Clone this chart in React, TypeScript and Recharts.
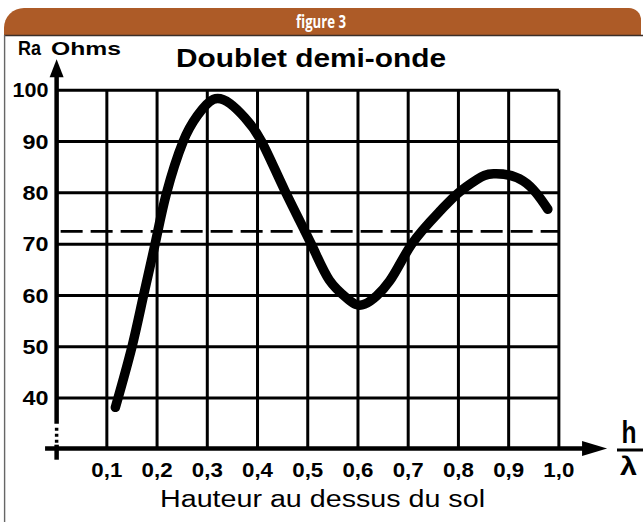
import React from 'react';
import { LineChart, Line, XAxis, YAxis, ReferenceLine } from 'recharts';

// ---- data ----
const H_LAMBDA = [0.117, 0.15, 0.173, 0.196, 0.219, 0.252, 0.28, 0.312, 0.345, 0.375, 0.408, 0.454, 0.507, 0.543, 0.58, 0.613, 0.663, 0.707, 0.764, 0.8, 0.837, 0.87, 0.929, 0.978];
const RA_OHMS = [38.2, 50, 60, 70, 80, 90, 95, 98.2, 97.4, 94.6, 90, 80.5, 70, 63, 59.3, 58.3, 62.8, 70, 76.5, 80, 82.6, 83.7, 82.3, 76.8];

const X_TICKS = [0.1, 0.2, 0.3, 0.4, 0.5, 0.6, 0.7, 0.8, 0.9, 1.0];
const X_TICK_LABELS = ['0,1', '0,2', '0,3', '0,4', '0,5', '0,6', '0,7', '0,8', '0,9', '1,0'];
const Y_TICKS = [40, 50, 60, 70, 80, 90, 100];
const Y_TICK_LABELS = ['40', '50', '60', '70', '80', '90', '100'];
const REFERENCE_OHMS = 72.5; // dashed line
const AXIS_Y = 30.2; // level of drawn horizontal axis
const X_DOMAIN: [number, number] = [0, 1.1];
const Y_DOMAIN: [number, number] = [28, 106];
const X_AXIS_START = -0.023;
const X_AXIS_END = 1.096;

const TITLE = 'Doublet demi-onde';
const HEADER = 'figure 3';
const Y_LABEL_A = 'Ra';
const Y_LABEL_B = 'Ohms';
const X_LABEL = 'Hauteur au dessus du sol';

const data = H_LAMBDA.map((h, i) => ({ h, ra: RA_OHMS[i] }));

const FONT = '"Liberation Sans", Arial, Helvetica, sans-serif';

const XTick = (props: any) => {
  const { x, y, payload } = props;
  const idx = X_TICKS.indexOf(payload.value);
  const label = idx >= 0 ? X_TICK_LABELS[idx] : String(payload.value);
  return (
    <text x={x} y={y + 9.5} textAnchor="middle" fontFamily={FONT} fontSize={20.5} fontWeight="bold" fill="#000"
      textLength={31} lengthAdjust="spacingAndGlyphs">{label}</text>
  );
};

const YTick = (props: any) => {
  const { x, y, payload } = props;
  const idx = Y_TICKS.indexOf(payload.value);
  const label = idx >= 0 ? Y_TICK_LABELS[idx] : String(payload.value);
  return (
    <text x={x} y={y + 7.3} textAnchor="end" fontFamily={FONT} fontSize={20.5} fontWeight="bold" fill="#000"
      textLength={label.length === 3 ? 36 : 26} lengthAdjust="spacingAndGlyphs">{label}</text>
  );
};

const XAxisShape = (p: any) => {
  const { x1, y1, x2, y2 } = p;
  return (
    <g>
      <line x1={x1} y1={y1} x2={x2 - 20} y2={y2} stroke="#000" strokeWidth={4.5} />
      <polygon points={`${x2},${y2} ${x2 - 25},${y2 - 7.5} ${x2 - 25},${y2 + 7.5}`} fill="#000" />
    </g>
  );
};

const YAxisShape = (p: any) => {
  const { x1, y1, x2, y2 } = p; // y1 = bottom, y2 = top
  return (
    <g>
      <line x1={x1} y1={y1} x2={x1} y2={y1 - 15} stroke="#000" strokeWidth={4.5} />
      <line x1={x1} y1={y1 - 17} x2={x1} y2={y1 - 35} stroke="#000" strokeWidth={3.5} strokeDasharray="3 3" />
      <line x1={x1} y1={y1 - 36} x2={x2} y2={y2 + 14} stroke="#000" strokeWidth={4.5} />
      <polygon points={`${x2},${y2} ${x2 - 7},${y2 + 18} ${x2 + 7},${y2 + 18}`} fill="#000" />
    </g>
  );
};

export default function App() {
  return (
    <div style={{ position: 'absolute', left: 0, top: 0, width: 643, height: 522, background: '#fff', overflow: 'hidden' }}>
      <div style={{ position: 'absolute', left: 0, top: 0 }}>
        <LineChart width={643} height={522} data={data}
          margin={{ top: 59.35, right: 33.9, bottom: 32.3, left: 6.62 }}>
          <XAxis dataKey="h" type="number" domain={X_DOMAIN} ticks={X_TICKS} axisLine={false} tickLine={false}
            height={30} tick={(p: any) => <XTick {...p} />} interval={0} allowDataOverflow />
          <YAxis type="number" domain={Y_DOMAIN} ticks={Y_TICKS} axisLine={false} tickLine={false}
            width={50} tick={(p: any) => <YTick {...p} />} interval={0} allowDataOverflow />
          {Y_TICKS.map((v) => (
            <ReferenceLine key={'hy' + v} segment={[{ x: 0, y: v }, { x: 1, y: v }]} stroke="#000" strokeWidth={3} ifOverflow="visible" />
          ))}
          {X_TICKS.map((v) => (
            <ReferenceLine key={'vx' + v} segment={[{ x: v, y: AXIS_Y }, { x: v, y: 100 }]} stroke="#000" strokeWidth={3} ifOverflow="visible" />
          ))}
          <ReferenceLine segment={[{ x: 0.008, y: REFERENCE_OHMS }, { x: 1, y: REFERENCE_OHMS }]} stroke="#000" strokeWidth={2.8}
            strokeDasharray="22 8" ifOverflow="visible" />
          <ReferenceLine segment={[{ x: X_AXIS_START, y: AXIS_Y }, { x: X_AXIS_END, y: AXIS_Y }]} ifOverflow="visible" shape={XAxisShape} />
          <ReferenceLine segment={[{ x: 0, y: Y_DOMAIN[0] }, { x: 0, y: Y_DOMAIN[1] }]} ifOverflow="visible" shape={YAxisShape} />
          <Line type="natural" dataKey="ra" stroke="#000" strokeWidth={9.5} strokeLinecap="round" strokeLinejoin="round"
            dot={false} activeDot={false} isAnimationActive={false} />
        </LineChart>
      </div>
      <svg width={643} height={522} style={{ position: 'absolute', left: 0, top: 0, pointerEvents: 'none' }}>
        <path d="M4,35 V28 A20,20 0 0 1 24,8 H629 A12,12 0 0 1 641,20 V35 Z" fill="#AD5B27" />
        <line x1={4} y1={35.6} x2={643} y2={35.6} stroke="#3b2e28" strokeWidth={1.5} />
        <line x1={4.6} y1={35} x2={4.6} y2={522} stroke="#666" strokeWidth={1.4} />
        <text x={321} y={28} textAnchor="middle" fontFamily='"Open Sans", "Noto Sans", sans-serif' fontSize={17.5} fontWeight="bold"
          fill="#fff" textLength={50} lengthAdjust="spacingAndGlyphs">{HEADER}</text>
        <text x={18} y={55} fontFamily={FONT} fontSize={21} fontWeight="bold" fill="#000" textLength={23} lengthAdjust="spacingAndGlyphs">{Y_LABEL_A}</text>
        <text x={51} y={55} fontFamily={FONT} fontSize={17.5} fontWeight="bold" fill="#000" textLength={70} lengthAdjust="spacingAndGlyphs">{Y_LABEL_B}</text>
        <text x={176} y={66.7} fontFamily={FONT} fontSize={25.7} fontWeight="bold" fill="#000" textLength={270} lengthAdjust="spacingAndGlyphs">{TITLE}</text>
        <text x={160} y={507} fontFamily={FONT} fontSize={23} fill="#000" textLength={325} lengthAdjust="spacingAndGlyphs">{X_LABEL}</text>
        <text x={621.5} y={443.3} fontFamily={FONT} fontSize={31} fontWeight="bold" fill="#000" textLength={15} lengthAdjust="spacingAndGlyphs">h</text>
        <line x1={617} y1={450} x2={643} y2={450} stroke="#000" strokeWidth={3} />
        <text x={620} y={475} fontFamily={FONT} fontSize={25} fontWeight="bold" fill="#000" textLength={17} lengthAdjust="spacingAndGlyphs">λ</text>
      </svg>
    </div>
  );
}
